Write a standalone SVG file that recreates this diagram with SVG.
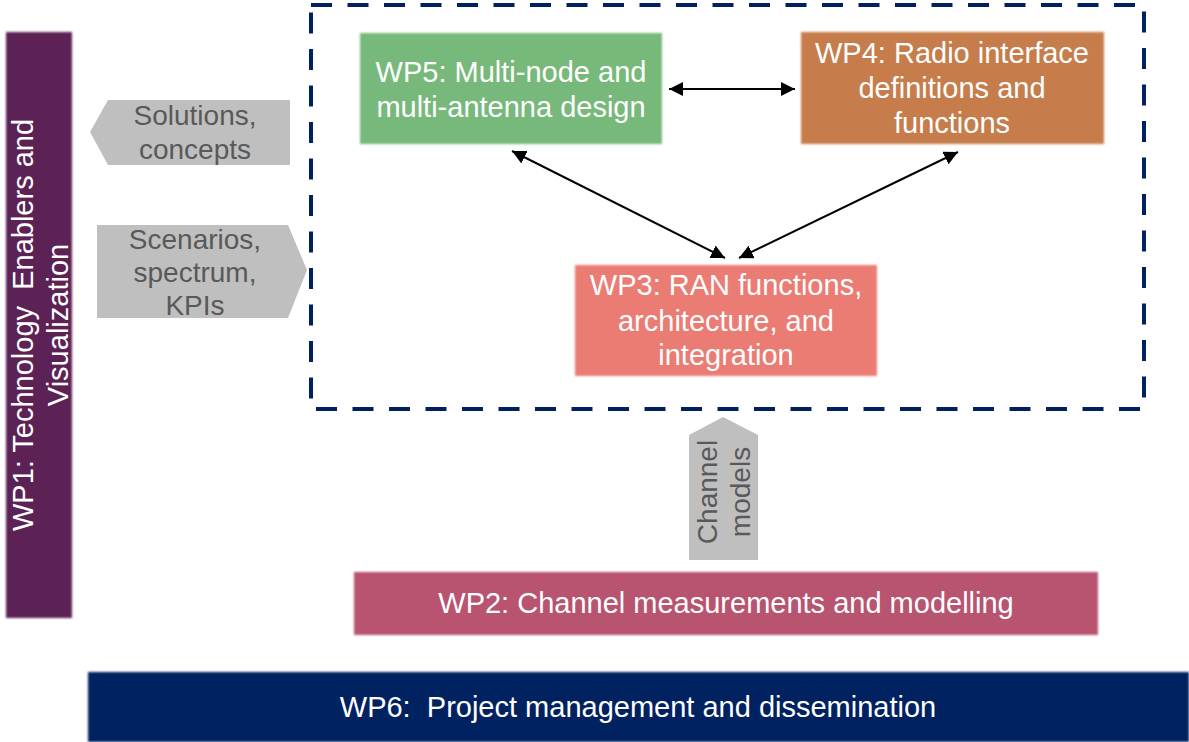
<svg xmlns="http://www.w3.org/2000/svg" width="1189" height="742" viewBox="0 0 1189 742">
  <defs>
    <style>
      .lbl { font-family: "Liberation Sans", Arial, sans-serif; font-size: 29px; fill: #ffffff; text-anchor: middle; }
      .grey { font-family: "Liberation Sans", Arial, sans-serif; font-size: 28px; fill: #595959; text-anchor: middle; }
      .flow { fill: #bfbfbf; }
      .link { stroke: #000000; stroke-width: 2; fill: none; marker-start: url(#head); marker-end: url(#head); }
      .frame { fill: none; stroke: #002060; stroke-width: 4; stroke-dasharray: 21 15.5; }
    </style>
    <filter id="soft" x="-5%" y="-5%" width="110%" height="110%">
      <feGaussianBlur stdDeviation="0.9"/>
    </filter>
    <marker id="head" viewBox="0 0 14 14" markerUnits="userSpaceOnUse" markerWidth="14" markerHeight="14" refX="14" refY="7" orient="auto-start-reverse">
      <path d="M0,0 L14,7 L0,14 z" fill="#000000"/>
    </marker>
  </defs>

  <rect width="1189" height="742" fill="#ffffff"/>

  <!-- WP1 vertical bar -->
  <g id="wp1">
    <rect x="6" y="32" width="66" height="586" fill="#5b2355" filter="url(#soft)"/>
    <text class="lbl" xml:space="preserve" transform="translate(33,325) rotate(-90)">WP1: Technology  Enablers and</text>
    <text class="lbl" transform="translate(68,325) rotate(-90)">Visualization</text>
  </g>

  <!-- Dashed frame around WP3/WP4/WP5 -->
  <g id="frame">
    <rect class="frame" x="311" y="5" width="833" height="404"/>
  </g>

  <!-- Flow arrows between WP1 and the technical WPs -->
  <g id="solutions">
    <polygon class="flow" points="108,100 290,100 290,165 108,165 90,132"/>
    <text class="grey" x="195" y="125">Solutions,</text>
    <text class="grey" x="195" y="159">concepts</text>
  </g>
  <g id="scenarios">
    <polygon class="flow" points="97,225 288,225 307,270 288,318 97,318"/>
    <text class="grey" x="195" y="249">Scenarios,</text>
    <text class="grey" x="195" y="282">spectrum,</text>
    <text class="grey" x="195" y="315">KPIs</text>
  </g>

  <!-- WP5 -->
  <g id="wp5">
    <rect x="360" y="33" width="302" height="111" fill="#77b97a" filter="url(#soft)"/>
    <text class="lbl" x="511" y="82">WP5: Multi-node and</text>
    <text class="lbl" x="511" y="117">multi-antenna design</text>
  </g>

  <!-- WP4 -->
  <g id="wp4">
    <rect x="801" y="32" width="303" height="112" fill="#c67d4c" filter="url(#soft)"/>
    <text class="lbl" x="952" y="63">WP4: Radio interface</text>
    <text class="lbl" x="952" y="98">definitions and</text>
    <text class="lbl" x="952" y="133">functions</text>
  </g>

  <!-- WP3 -->
  <g id="wp3">
    <rect x="575" y="265" width="302" height="111" fill="#eb7b73" filter="url(#soft)"/>
    <text class="lbl" x="726" y="295">WP3: RAN functions,</text>
    <text class="lbl" x="726" y="331">architecture, and</text>
    <text class="lbl" x="726" y="365">integration</text>
  </g>

  <!-- Channel models arrow from WP2 -->
  <g id="channel-models">
    <polygon class="flow" points="689,435 723,417 758,435 758,560 689,560"/>
    <text class="grey" transform="translate(717,492) rotate(-90)">Channel</text>
    <text class="grey" transform="translate(750,492) rotate(-90)">models</text>
  </g>

  <!-- WP2 -->
  <g id="wp2">
    <rect x="354" y="572" width="744" height="63" fill="#b85270" filter="url(#soft)"/>
    <text class="lbl" x="726" y="613">WP2: Channel measurements and modelling</text>
  </g>

  <!-- WP6 -->
  <g id="wp6">
    <rect x="88" y="672" width="1101" height="70" fill="#002060" filter="url(#soft)"/>
    <text class="lbl" xml:space="preserve" x="638" y="717">WP6:  Project management and dissemination</text>
  </g>

  <!-- Bidirectional links between WP3, WP4 and WP5 -->
  <g id="connectors">
    <line class="link" x1="669" y1="89" x2="795" y2="89"/>
    <line class="link" x1="512" y1="151" x2="725" y2="258"/>
    <line class="link" x1="958" y1="152" x2="739" y2="258"/>
  </g>
</svg>
